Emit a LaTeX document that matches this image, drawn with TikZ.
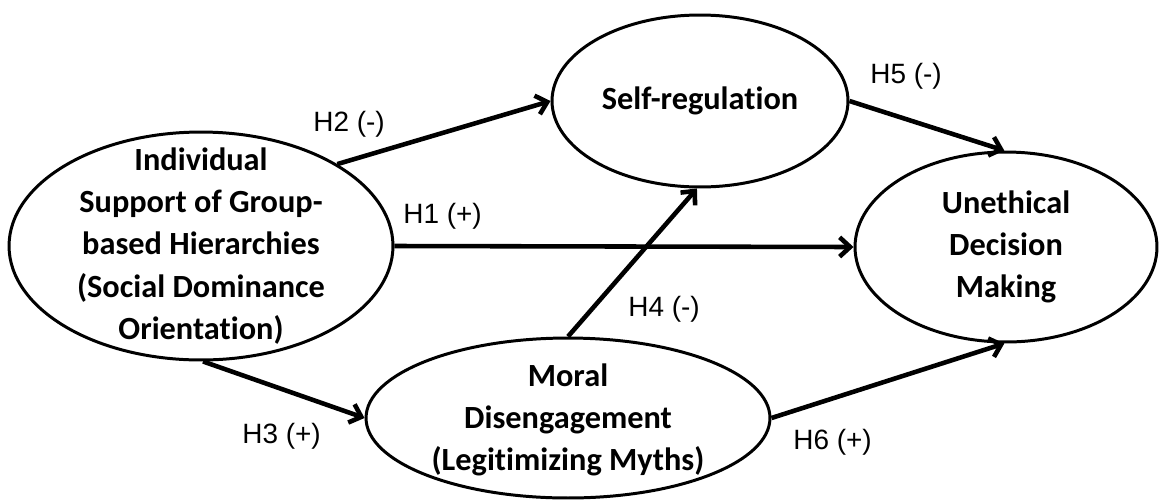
\documentclass[tikz,border=0pt]{standalone}
\usepackage{fontspec}
\setmainfont{Carlito}[Ligatures={NoCommon}]
\newfontfamily\arialfont{Liberation Sans}
\usetikzlibrary{shapes.geometric,arrows.meta}
\begin{document}
\begin{tikzpicture}[x=0.02cm,y=-0.02cm,
  ell/.style={draw=black, ellipse, line width=1.7pt, inner sep=0pt},
  ntext/.style={align=center, inner sep=0pt, font=\fontsize{18.4pt}{24pt}\selectfont\bfseries},
  hlab/.style={anchor=base west, inner sep=0pt, font=\arialfont\fontsize{15.9pt}{19pt}\selectfont},
  conn/.style={line width=2.6pt, -{Straight Barb[length=6pt,width=11pt]}}]
\useasboundingbox (0,0) rectangle (1162,501);
% ellipses
\node[ell, minimum width=7.68cm, minimum height=4.56cm] (L) at (201,246) {};
\node[ell, minimum width=5.92cm, minimum height=3.44cm] (S) at (700,101) {};
\node[ell, minimum width=6.04cm, minimum height=3.80cm] (U) at (1006,247) {};
\node[ell, minimum width=8.08cm, minimum height=3.20cm] (M) at (568,418) {};
% texts
\node[ntext] (Lt) at (201,246) {Individual\\Support of Group-\\based Hierarchies\\(Social Dominance\\Orientation)};
\node[ntext] (St) at (700,101) {Self-regulation};
\node[ntext] (Ut) at (1006,247) {Unethical\\Decision\\Making};
\node[ntext] (Mt) at (568,420) {Moral\\Disengagement\\(Legitimizing Myths)};
% connectors
\draw[conn] (L.31.8) -- (S.180);
\draw[conn] (L.0) -- (U.180);
\draw[conn] (L.-89) -- (M.180);
\draw[conn] (M.90) -- (S.-92);
\draw[conn] (S.0) -- (U.91);
\draw[conn] (M.0) -- (U.-91);
% labels
\node[hlab] (h2) at (313,131) {H2 (-)};
\node[hlab] (h1) at (403,223) {H1 (+)};
\node[hlab] (h4) at (628,316) {H4 (-)};
\node[hlab] (h3) at (242,443) {H3 (+)};
\node[hlab] (h6) at (793,449) {H6 (+)};
\node[hlab] (h5) at (870,83) {H5 (-)};
\end{tikzpicture}
\end{document}
